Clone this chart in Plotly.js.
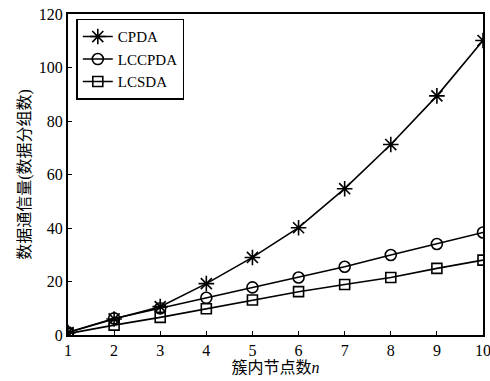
<!DOCTYPE html>
<html><head><meta charset="utf-8">
<script src="https://cdn.plot.ly/plotly-3.0.1.min.js"></script>
<style>body{margin:0;background:#fff}#c{width:490px;height:381px}</style>
</head><body><div id="c"></div>
<script>
const nodes = [1,2,3,4,5,6,7,8,9,10];
const cpda = [0.9,6.0,10.6,19.2,29.0,40.1,54.7,71.2,89.4,110.1];
const lccpda = [1.0,6.2,10.0,13.9,17.8,21.5,25.5,29.9,34.0,38.3];
const lcsda = [0.5,3.7,6.6,9.8,13.1,16.2,18.9,21.5,24.9,28.0];
const names = ['CPDA','LCCPDA','LCSDA'];
const font = {family:'"Liberation Serif","Noto Sans CJK SC",serif', size:16, color:'#000'};
const mk = (y,name,sym,size)=>({x:nodes,y:y,name:name,type:'scatter',mode:'lines+markers',
  line:{color:'#000',width:1.6},
  marker:{symbol:sym,size:size,color:'#000',line:{color:'#000',width:1.6}}});
const data = [mk(cpda,names[0],'asterisk-open',13), mk(lccpda,names[1],'circle-open',11), mk(lcsda,names[2],'square-open',10)];
const layout = {
  width:490,height:381,margin:{l:68,r:7,t:14,b:46},
  paper_bgcolor:'#fff',plot_bgcolor:'#fff',font:font,showlegend:true,
  xaxis:{range:[1,10],tickvals:nodes,ticks:'inside',ticklen:4,tickcolor:'#000',showline:true,mirror:true,
    linecolor:'#000',linewidth:2,showgrid:false,zeroline:false,tickfont:font,ticklabeloverflow:'allow',
    title:{text:'簇内节点数<i>n</i>',font:font,standoff:2}},
  yaxis:{range:[0,120],dtick:20,ticks:'inside',ticklen:4,tickcolor:'#000',showline:true,mirror:true,
    linecolor:'#000',linewidth:2,showgrid:false,zeroline:false,tickfont:font,ticklabeloverflow:'allow',
    title:{text:'数据通信量(数据分组数)',font:font,standoff:4}},
  legend:{x:0.02,y:0.985,xanchor:'left',yanchor:'top',bgcolor:'#fff',bordercolor:'#000',borderwidth:1.5,
    font:Object.assign({},font,{size:15}),tracegroupgap:0,itemwidth:30}
};
Plotly.newPlot('c',data,layout,{staticPlot:true});
</script></body></html>
